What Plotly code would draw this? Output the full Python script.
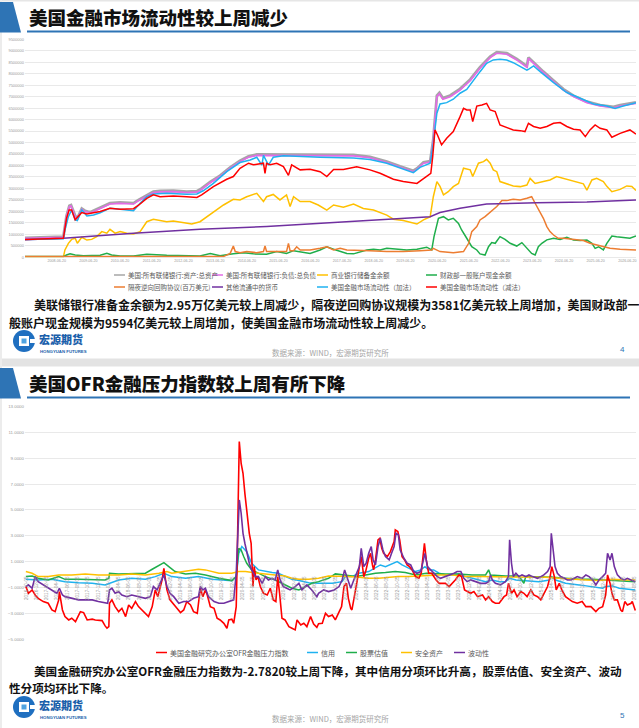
import pandas as pd
import plotly.graph_objects as go

W, H = 639, 728

# ---------------- Top chart data (decimal years ; values in million USD) ----------------
assets_t = [2007.47, 2007.9, 2008.3, 2008.68, 2008.78, 2008.87, 2008.92, 2009.05, 2009.12, 2009.26, 2009.36, 2009.47,
            2009.57, 2009.73, 2009.94, 2010.15, 2010.47, 2010.89, 2011.05, 2011.31, 2011.52, 2011.73, 2012.15, 2012.57,
            2012.89, 2013.04, 2013.31, 2013.62, 2013.94, 2014.25, 2014.52, 2014.78, 2015.09, 2015.62, 2016.15, 2016.78,
            2017.83, 2018.35, 2018.88, 2019.30, 2019.72, 2019.83, 2020.04, 2020.25, 2020.35, 2020.46, 2020.54, 2020.65,
            2020.88, 2021.19, 2021.51, 2021.82, 2022.14, 2022.35, 2022.66, 2022.98, 2023.24, 2023.30, 2023.35, 2023.51,
            2023.82, 2024.14, 2024.45, 2024.77, 2025.19, 2025.61, 2026.03, 2026.24, 2026.74]
assets_v = [0.85, 0.87, 0.88, 0.90, 1.80, 2.25, 2.28, 1.81, 1.70, 2.12, 2.03, 1.98,
            1.99, 2.09, 2.25, 2.36, 2.39, 2.36, 2.50, 2.71, 2.86, 2.89, 2.90, 2.86,
            2.88, 3.00, 3.29, 3.56, 3.92, 4.21, 4.40, 4.48, 4.48, 4.47, 4.47, 4.46,
            4.46, 4.38, 4.17, 3.96, 3.77, 3.87, 4.14, 4.19, 5.15, 7.05, 7.17, 6.94,
            7.05, 7.34, 7.75, 8.29, 8.75, 8.94, 8.90, 8.65, 8.36, 8.33, 8.71, 8.49,
            8.09, 7.70, 7.33, 7.04, 6.78, 6.63, 6.56, 6.63, 6.75]

liab_t = assets_t
liab_v = [0.83, 0.84, 0.85, 0.87, 1.77, 2.21, 2.24, 1.77, 1.66, 2.09, 1.99, 1.95,
          1.95, 2.06, 2.21, 2.32, 2.35, 2.32, 2.47, 2.67, 2.82, 2.85, 2.86, 2.82,
          2.84, 2.96, 3.25, 3.52, 3.88, 4.17, 4.36, 4.44, 4.44, 4.43, 4.43, 4.42,
          4.42, 4.34, 4.13, 3.92, 3.73, 3.83, 4.10, 4.15, 5.11, 7.00, 7.12, 6.89,
          7.00, 7.29, 7.70, 8.24, 8.70, 8.89, 8.85, 8.60, 8.31, 8.28, 8.67, 8.45,
          8.05, 7.66, 7.29, 7.00, 6.74, 6.59, 6.52, 6.59, 6.71]

res_t = [2007.47, 2008.68, 2008.73, 2008.84, 2008.94, 2009.05, 2009.12, 2009.26, 2009.42, 2009.57, 2009.73, 2009.89,
         2010.05, 2010.15, 2010.31, 2010.47, 2010.68, 2010.89, 2011.10, 2011.31, 2011.52, 2011.73, 2011.94, 2012.15,
         2012.41, 2012.73, 2012.99, 2013.20, 2013.41, 2013.73, 2014.04, 2014.25, 2014.46, 2014.78, 2014.99, 2015.09,
         2015.30, 2015.51, 2015.72, 2015.83, 2015.94, 2016.15, 2016.46, 2016.72, 2016.99, 2017.20, 2017.51, 2017.83,
         2018.14, 2018.46, 2018.88, 2019.09, 2019.40, 2019.83, 2020.04, 2020.25, 2020.35, 2020.46, 2020.56, 2020.67,
         2020.82, 2020.98, 2021.14, 2021.30, 2021.51, 2021.59, 2021.77, 2021.93, 2022.03, 2022.14, 2022.24, 2022.35,
         2022.45, 2022.66, 2022.87, 2023.09, 2023.30, 2023.40, 2023.56, 2023.82, 2024.03, 2024.24, 2024.45, 2024.77,
         2025.08, 2025.19, 2025.35, 2025.50, 2025.71, 2025.82, 2025.98, 2026.24, 2026.45, 2026.61, 2026.74]
res_v = [0.01, 0.01, 0.32, 0.61, 0.78, 0.83, 0.61, 0.87, 0.75, 0.78, 0.90, 1.12,
         1.05, 1.22, 1.05, 1.12, 1.05, 1.02, 1.12, 1.55, 1.66, 1.60, 1.55, 1.58,
         1.51, 1.45, 1.55, 1.77, 1.99, 2.28, 2.53, 2.50, 2.64, 2.79, 2.43, 2.64,
         2.74, 2.50, 2.72, 2.21, 2.64, 2.43, 2.43, 2.28, 2.06, 2.28, 2.18, 2.32,
         2.13, 2.06, 1.84, 1.66, 1.60, 1.45, 1.63, 1.77, 2.64, 3.30, 3.09, 2.72,
         2.86, 3.08, 3.22, 3.88, 3.81, 3.52, 4.10, 4.17, 4.27, 4.10, 3.81, 3.73,
         3.30, 3.20, 3.11, 3.08, 3.15, 3.44, 3.22, 3.30, 3.37, 3.52, 3.44, 3.30,
         3.20, 2.93, 3.37, 3.44, 3.30, 3.09, 2.86, 2.96, 3.11, 3.09, 2.91]

tga_t = [2007.47, 2008.68, 2008.78, 2008.89, 2009.05, 2009.31, 2009.84, 2010.05, 2010.20, 2010.47, 2010.89, 2011.31,
         2011.94, 2012.57, 2012.99, 2013.31, 2013.62, 2014.04, 2014.36, 2014.67, 2015.09, 2015.41, 2015.72, 2015.94,
         2016.15, 2016.46, 2016.78, 2016.99, 2017.20, 2017.41, 2017.62, 2017.83, 2018.04, 2018.25, 2018.46, 2018.67,
         2018.88, 2019.19, 2019.51, 2019.83, 2020.14, 2020.30, 2020.37, 2020.51, 2020.67, 2020.82, 2020.98, 2021.14,
         2021.24, 2021.40, 2021.56, 2021.72, 2021.82, 2021.98, 2022.09, 2022.19, 2022.30, 2022.45, 2022.61, 2022.77,
         2022.98, 2023.14, 2023.30, 2023.45, 2023.56, 2023.66, 2023.77, 2023.93, 2024.14, 2024.35, 2024.56, 2024.77,
         2024.98, 2025.19, 2025.35, 2025.45, 2025.56, 2025.71, 2025.82, 2025.98, 2026.13, 2026.34, 2026.55, 2026.74]
tga_v = [0.03, 0.03, 0.10, 0.15, 0.10, 0.07, 0.09, 0.17, 0.10, 0.06, 0.06, 0.13,
         0.09, 0.06, 0.06, 0.17, 0.07, 0.15, 0.20, 0.15, 0.13, 0.25, 0.17, 0.29,
         0.25, 0.17, 0.32, 0.46, 0.35, 0.25, 0.17, 0.15, 0.25, 0.32, 0.35, 0.32,
         0.39, 0.35, 0.32, 0.35, 0.44, 0.32, 0.90, 1.70, 1.77, 1.63, 1.70, 1.48,
         1.19, 0.83, 0.46, 0.32, 0.15, 0.10, 0.46, 0.64, 0.61, 0.90, 0.78, 0.61,
         0.49, 0.64, 0.39, 0.17, 0.10, 0.46, 0.61, 0.76, 0.83, 0.78, 0.87, 0.75,
         0.73, 0.75, 0.61, 0.39, 0.46, 0.32, 0.61, 0.93, 0.90, 0.87, 0.83, 0.93]

rrp_t = [2007.47, 2013.73, 2013.94, 2014.04, 2014.10, 2014.25, 2014.46, 2014.78, 2014.99, 2015.04, 2015.09, 2015.41,
         2015.72, 2015.78, 2015.83, 2015.94, 2016.04, 2016.15, 2016.46, 2016.78, 2016.99, 2017.20, 2017.41, 2017.62,
         2018.04, 2018.35, 2018.88, 2019.40, 2019.93, 2020.30, 2020.35, 2020.56, 2020.98, 2021.30, 2021.46, 2021.56,
         2021.72, 2021.82, 2021.98, 2022.14, 2022.35, 2022.51, 2022.66, 2022.87, 2023.09, 2023.30, 2023.45, 2023.59,
         2023.72, 2023.82, 2023.93, 2024.03, 2024.14, 2024.29, 2024.45, 2024.77, 2025.08, 2025.29, 2025.50, 2025.71,
         2025.92, 2026.24, 2026.74]
rrp_v = [0.03, 0.03, 0.17, 0.49, 0.25, 0.20, 0.25, 0.20, 0.25, 0.49, 0.25, 0.25,
         0.25, 0.61, 0.29, 0.29, 0.46, 0.32, 0.32, 0.39, 0.46, 0.32, 0.39, 0.32,
         0.32, 0.29, 0.25, 0.25, 0.29, 0.32, 0.39, 0.25, 0.20, 0.25, 0.61, 1.12,
         1.34, 1.63, 1.77, 1.95, 2.21, 2.47, 2.47, 2.53, 2.50, 2.57, 2.64, 2.28,
         1.99, 1.70, 1.34, 1.12, 0.97, 0.83, 0.83, 0.78, 0.73, 0.61, 0.54, 0.46,
         0.39, 0.35, 0.32]

cur_t = [2007.47, 2008.68, 2010.89, 2012.99, 2015.09, 2016.78, 2020.25, 2020.56, 2021.19, 2022.03, 2022.66, 2023.61,
         2025.19, 2026.74]
cur_v = [0.76, 0.83, 1.05, 1.22, 1.34, 1.48, 1.77, 1.95, 2.14, 2.32, 2.35, 2.38, 2.41, 2.50]

add_t = [2007.47, 2008.68, 2008.73, 2008.84, 2008.94, 2009.05, 2009.12, 2009.26, 2009.42, 2009.63, 2009.84, 2010.15,
         2010.47, 2010.89, 2011.10, 2011.31, 2011.52, 2011.94, 2012.57, 2012.89, 2013.10, 2013.41, 2013.83, 2014.25,
         2014.57, 2014.78, 2014.94, 2014.99, 2015.15, 2015.30, 2015.62, 2016.15, 2016.78, 2017.83, 2018.35, 2018.88,
         2019.30, 2019.72, 2019.93, 2020.25, 2020.35, 2020.46, 2020.56, 2020.77, 2020.98, 2021.19, 2021.40, 2021.61,
         2021.82, 2022.03, 2022.24, 2022.45, 2022.66, 2022.87, 2023.09, 2023.30, 2023.35, 2023.51, 2023.72, 2024.14,
         2024.56, 2024.98, 2025.40, 2025.82, 2026.08, 2026.34, 2026.74]
add_v = [0.78, 0.81, 1.19, 1.77, 2.06, 1.63, 1.60, 2.06, 1.80, 1.84, 1.94, 2.14,
         2.09, 2.03, 2.35, 2.64, 2.76, 2.79, 2.75, 2.76, 2.91, 3.22, 3.73, 4.13,
         4.24, 4.36, 4.02, 4.44, 4.02, 4.36, 4.42, 4.39, 4.36, 4.33, 4.26, 4.10,
         3.91, 3.69, 3.92, 4.10, 4.97, 6.28, 6.68, 6.74, 6.89, 7.15, 7.32, 7.73,
         8.09, 8.45, 8.60, 8.63, 8.60, 8.48, 8.31, 8.16, 8.19, 8.34, 8.09, 7.61,
         7.18, 6.93, 6.68, 6.59, 6.49, 6.59, 6.74]

sub_t = [2007.47, 2008.68, 2008.78, 2008.86, 2008.94, 2009.05, 2009.12, 2009.26, 2009.42, 2009.63, 2009.84, 2010.15,
         2010.47, 2010.89, 2011.05, 2011.31, 2011.52, 2011.73, 2012.15, 2012.57, 2012.89, 2013.04, 2013.41, 2013.83,
         2014.04, 2014.25, 2014.52, 2014.67, 2014.99, 2015.04, 2015.09, 2015.20, 2015.41, 2015.62, 2015.78, 2015.88,
         2016.15, 2016.46, 2016.78, 2016.99, 2017.20, 2017.51, 2017.93, 2018.35, 2018.67, 2019.09, 2019.40, 2019.83,
         2020.14, 2020.27, 2020.33, 2020.40, 2020.48, 2020.61, 2020.77, 2020.98, 2021.19, 2021.30, 2021.40, 2021.51,
         2021.59, 2021.72, 2021.88, 2022.03, 2022.14, 2022.30, 2022.45, 2022.66, 2022.87, 2023.09, 2023.24, 2023.35,
         2023.51, 2023.72, 2023.93, 2024.14, 2024.35, 2024.56, 2024.77, 2024.98, 2025.14, 2025.29, 2025.45, 2025.61,
         2025.82, 2025.98, 2026.24, 2026.55, 2026.74]
sub_v = [0.78, 0.83, 1.69, 2.06, 2.06, 1.63, 1.74, 1.95, 1.89, 1.95, 2.00, 2.14,
         2.09, 2.12, 2.27, 2.57, 2.72, 2.64, 2.67, 2.64, 2.61, 2.72, 3.08, 3.40,
         3.52, 3.88, 4.10, 4.03, 4.10, 3.66, 4.10, 4.03, 4.10, 3.95, 3.57, 4.03,
         3.81, 3.84, 3.73, 3.52, 3.83, 3.83, 3.95, 3.81, 3.66, 3.40, 3.30, 3.22,
         3.52, 3.66, 4.39, 5.55, 5.33, 4.90, 5.19, 5.48, 6.13, 6.49, 6.42, 6.42,
         5.91, 6.59, 6.64, 6.71, 6.42, 6.35, 5.77, 5.67, 5.55, 5.52, 5.48, 5.84,
         5.70, 5.62, 5.70, 5.84, 5.87, 5.70, 5.58, 5.55, 5.26, 5.55, 5.77, 5.62,
         5.55, 5.23, 5.40, 5.55, 5.37]

top_names = ["美国:所有联储银行:资产:总资产", "美国:所有联储银行:负债:总负债", "商业银行储备金余额",
             "财政部一般账户现金余额", "隔夜逆向回购协议(百万美元)", "其他流通中的货币",
             "美国金融市场流动性（加法）", "美国金融市场流动性（减法）"]

# ---------------- Bottom chart data (OFR financial stress index and components) ----------------
fsi_t = [2016.76, 2016.80, 2016.86, 2016.91, 2016.96, 2017.04, 2017.12, 2017.18, 2017.23, 2017.29, 2017.30, 2017.35,
         2017.39, 2017.45, 2017.50, 2017.56, 2017.64, 2017.69, 2017.75, 2017.83, 2017.88, 2017.93, 2017.99, 2018.04,
         2018.07, 2018.10, 2018.11, 2018.15, 2018.20, 2018.26, 2018.31, 2018.37, 2018.42, 2018.47, 2018.53, 2018.58,
         2018.64, 2018.69, 2018.74, 2018.80, 2018.85, 2018.89, 2018.96, 2018.99, 2019.04, 2019.09, 2019.15, 2019.20,
         2019.26, 2019.31, 2019.36, 2019.42, 2019.47, 2019.53, 2019.58, 2019.62, 2019.66, 2019.69, 2019.74, 2019.80,
         2019.85, 2019.90, 2019.96, 2020.01, 2020.04, 2020.09, 2020.12, 2020.16, 2020.17, 2020.19, 2020.21, 2020.24,
         2020.27, 2020.30, 2020.33, 2020.37, 2020.40, 2020.43, 2020.45, 2020.48, 2020.51, 2020.55, 2020.60, 2020.66,
         2020.71, 2020.76, 2020.80, 2020.83, 2020.86, 2020.90, 2020.95, 2021.01, 2021.06, 2021.11, 2021.14, 2021.20,
         2021.25, 2021.30, 2021.36, 2021.41, 2021.46, 2021.49, 2021.55, 2021.60, 2021.65, 2021.71, 2021.76, 2021.82,
         2021.86, 2021.90, 2021.94, 2021.97, 2022.01, 2022.03, 2022.08, 2022.11, 2022.15, 2022.18, 2022.22, 2022.25,
         2022.30, 2022.33, 2022.36, 2022.38, 2022.41, 2022.45, 2022.48, 2022.51, 2022.54, 2022.60, 2022.65, 2022.71,
         2022.73, 2022.77, 2022.80, 2022.84, 2022.88, 2022.92, 2022.96, 2023.00, 2023.06, 2023.11, 2023.15, 2023.18,
         2023.20, 2023.23, 2023.27, 2023.32, 2023.35, 2023.39, 2023.44, 2023.49, 2023.54, 2023.60, 2023.65, 2023.70,
         2023.76, 2023.80, 2023.85, 2023.89, 2023.95, 2024.00, 2024.06, 2024.14, 2024.19, 2024.24, 2024.30, 2024.35,
         2024.41, 2024.49, 2024.53, 2024.56, 2024.58, 2024.61, 2024.65, 2024.70, 2024.76, 2024.81, 2024.86, 2024.92,
         2024.97, 2025.03, 2025.08, 2025.13, 2025.19, 2025.23, 2025.26, 2025.30, 2025.33, 2025.38, 2025.42, 2025.48,
         2025.54, 2025.59, 2025.67, 2025.75, 2025.81, 2025.89, 2025.97, 2026.02, 2026.08, 2026.13, 2026.16, 2026.20,
         2026.23, 2026.27, 2026.32, 2026.375, 2026.40, 2026.44, 2026.48, 2026.54, 2026.56, 2026.61]
fsi_v = [-0.93, -1.45, -1.19, -1.58, -1.84, -2.09, -2.22, -2.74, -2.87, -1.96, -1.32, -2.74,
         -3.25, -3.51, -3.38, -3.64, -2.87, -2.94, -3.51, -3.45, -3.51, -3.51, -3.56, -3.97,
         -4.15, -4.03, -2.22, -1.96, -2.48, -2.87, -2.61, -3.25, -2.35, -2.61, -2.09, -2.48,
         -2.74, -3.00, -3.25, -2.48, -1.19, -1.71, -0.42, 0.48, -1.19, -1.96, -2.35, -2.61,
         -2.94, -2.74, -2.09, -2.35, -2.87, -3.00, -1.06, -1.71, -1.19, -1.58, -2.48, -2.61,
         -3.38, -3.51, -3.77, -4.15, -3.51, -3.45, -3.77, -2.48, 0.10, 6.80, 10.28, 8.60,
         7.83, 6.28, 4.87, 3.19, 2.42, -0.93, 0.61, -0.42, -0.16, -0.93, -1.45, -1.58,
         -1.06, -1.96, -2.09, -0.16, -1.45, -3.38, -3.51, -4.03, -4.15, -4.28, -3.51, -3.90,
         -3.77, -4.03, -3.25, -3.82, -4.08, -3.80, -3.77, -3.00, -3.25, -3.13, -3.51, -2.94,
         -2.48, -0.93, -0.68, -1.84, -2.61, -2.74, -1.45, -0.55, 0.61, 1.39, -0.16, 0.23,
         1.26, 1.64, 0.74, 0.36, 1.13, 2.68, 2.80, 2.03, 1.64, 1.39, 1.77, 2.55,
         3.45, 3.32, 2.68, 1.39, 1.13, 0.74, 0.61, 0.36, -0.16, -0.29, 0.10, 1.64,
         2.42, 1.13, 0.10, 0.10, -0.16, -0.42, -0.68, -0.68, -0.68, -0.93, -0.68, -0.42,
         -0.03, -0.16, -1.19, -1.32, -1.45, -1.32, -1.71, -1.58, -1.96, -1.71, -2.09, -2.22,
         -2.22, -1.71, -1.58, -0.68, -0.93, -1.45, -1.19, -1.71, -1.32, -1.45, -1.71, -1.19,
         -1.58, -1.71, -1.96, -1.45, -0.93, -0.16, 0.61, -0.16, -1.19, -0.68, -1.19, -1.71,
         -1.96, -2.09, -2.22, -2.09, -2.48, -2.48, -2.87, -2.61, -2.48, -1.58, -0.03, -0.68,
         -1.45, -1.96, -1.96, -2.74, -2.87, -2.09, -2.35, -2.22, -2.09, -2.78]

cred_t = [2016.76, 2016.96, 2017.18, 2017.39, 2017.61, 2017.83, 2018.04, 2018.10, 2018.26, 2018.47, 2018.69, 2018.85,
          2018.99, 2019.12, 2019.34, 2019.55, 2019.77, 2020.09, 2020.16, 2020.20, 2020.25, 2020.33, 2020.41, 2020.52,
          2020.63, 2020.74, 2020.84, 2020.95, 2021.06, 2021.17, 2021.33, 2021.49, 2021.71, 2021.87, 2021.92, 2022.03,
          2022.14, 2022.30, 2022.41, 2022.49, 2022.57, 2022.68, 2022.76, 2022.84, 2022.95, 2023.06, 2023.14, 2023.21,
          2023.27, 2023.35, 2023.44, 2023.54, 2023.65, 2023.76, 2023.87, 2023.97, 2024.08, 2024.19, 2024.30, 2024.41,
          2024.51, 2024.58, 2024.68, 2024.84, 2025.05, 2025.22, 2025.25, 2025.32, 2025.48, 2025.70, 2025.92, 2026.08,
          2026.13, 2026.24, 2026.35, 2026.48, 2026.61]
cred_v = [-0.37, -0.42, -0.37, -0.55, -0.63, -0.68, -0.80, -0.68, -0.42, -0.29, -0.37, -0.16,
          0.10, -0.16, -0.29, -0.16, -0.37, -0.47, -0.16, 1.64, 2.16, 1.77, 0.87, 0.36,
          0.23, 0.15, 0.10, -0.16, -0.37, -0.47, -0.63, -0.68, -0.68, -0.55, -0.16, -0.16,
          0.10, 0.23, 0.49, 0.74, 0.61, 0.87, 1.00, 0.74, 0.49, 0.23, 0.36, 0.61,
          0.36, 0.36, 0.10, -0.03, -0.03, 0.05, -0.16, -0.29, -0.37, -0.55, -0.42, -0.55,
          -0.55, -0.29, -0.42, -0.47, -0.55, -0.42, -0.16, -0.42, -0.68, -0.80, -0.93, -1.06,
          -0.93, -0.88, -1.06, -1.14, -1.19]

eq_t = [2016.76, 2016.86, 2016.96, 2017.12, 2017.29, 2017.39, 2017.61, 2017.83, 2018.04, 2018.10, 2018.11, 2018.26,
        2018.47, 2018.69, 2018.80, 2018.88, 2018.96, 2018.99, 2019.07, 2019.17, 2019.34, 2019.50, 2019.66, 2019.88,
        2020.09, 2020.16, 2020.20, 2020.24, 2020.28, 2020.33, 2020.41, 2020.52, 2020.63, 2020.79, 2020.95, 2021.06,
        2021.17, 2021.28, 2021.38, 2021.49, 2021.65, 2021.76, 2021.92, 2022.09, 2022.25, 2022.41, 2022.57, 2022.73,
        2022.89, 2023.06, 2023.23, 2023.38, 2023.54, 2023.76, 2023.97, 2024.19, 2024.24, 2024.27, 2024.51, 2024.73,
        2024.81, 2024.84, 2025.05, 2025.27, 2025.48, 2025.70, 2025.92, 2026.13, 2026.35, 2026.61]
eq_v = [-0.16, -0.11, -0.29, -0.42, -0.16, -0.37, -0.37, -0.42, -0.42, -0.29, 0.10, 0.05,
        0.10, 0.10, 0.41, 0.61, 0.82, 0.92, 0.61, 0.23, 0.05, 0.10, -0.03, -0.29,
        -0.47, -0.16, 2.03, 1.90, 1.39, 0.87, 0.36, 0.10, -0.16, -0.42, -0.80, -1.06,
        -1.19, -0.93, -0.68, -0.55, -0.29, 0.05, -0.03, -0.16, -0.03, 0.10, 0.15, 0.23,
        0.15, -0.03, 0.10, 0.05, 0.05, 0.05, -0.03, -0.03, 0.36, -0.03, -0.11, -0.11,
        -0.68, -0.16, -0.16, -0.21, -0.29, -0.37, -0.37, -0.42, -0.47, -0.55]

safe_t = [2016.76, 2016.86, 2016.96, 2017.12, 2017.29, 2017.50, 2017.72, 2017.93, 2018.10, 2018.26, 2018.47, 2018.69,
          2018.91, 2019.04, 2019.12, 2019.34, 2019.55, 2019.66, 2019.88, 2020.09, 2020.16, 2020.20, 2020.31, 2020.41,
          2020.52, 2020.63, 2020.79, 2020.95, 2021.06, 2021.17, 2021.33, 2021.49, 2021.65, 2021.82, 2021.97, 2022.14,
          2022.30, 2022.46, 2022.62, 2022.78, 2022.95, 2023.11, 2023.27, 2023.44, 2023.65, 2023.87, 2024.08, 2024.30,
          2024.51, 2024.73, 2024.95, 2025.16, 2025.38, 2025.59, 2025.81, 2026.02, 2026.24, 2026.46, 2026.61]
safe_v = [0.23, 0.10, -0.16, -0.16, -0.03, -0.03, 0.05, -0.03, -0.03, -0.03, 0.05, -0.03,
          0.10, 0.23, 0.10, 0.23, 0.41, 0.36, 0.10, 0.10, 0.15, 0.23, 0.23, 0.15,
          0.10, 0.05, -0.03, -0.11, -0.29, -0.37, -0.37, -0.29, -0.11, -0.11, -0.16, -0.21,
          -0.29, -0.29, -0.21, -0.16, -0.16, -0.11, -0.03, -0.03, -0.03, -0.16, -0.16, -0.16,
          -0.16, -0.21, -0.21, -0.21, -0.29, -0.37, -0.42, -0.47, -0.37, -0.42, -0.42]

vol_t = [2016.76, 2016.80, 2016.86, 2016.91, 2016.96, 2017.04, 2017.12, 2017.21, 2017.26, 2017.30, 2017.35, 2017.39,
         2017.50, 2017.61, 2017.72, 2017.83, 2017.93, 2018.04, 2018.08, 2018.11, 2018.15, 2018.20, 2018.26, 2018.31,
         2018.39, 2018.47, 2018.58, 2018.69, 2018.77, 2018.82, 2018.88, 2018.93, 2018.99, 2019.04, 2019.09, 2019.15,
         2019.23, 2019.31, 2019.39, 2019.47, 2019.55, 2019.58, 2019.62, 2019.66, 2019.71, 2019.80, 2019.88, 2019.96,
         2020.04, 2020.12, 2020.16, 2020.19, 2020.21, 2020.24, 2020.27, 2020.30, 2020.33, 2020.37, 2020.41, 2020.47,
         2020.52, 2020.58, 2020.63, 2020.68, 2020.74, 2020.79, 2020.83, 2020.87, 2020.92, 2020.98, 2021.03, 2021.11,
         2021.17, 2021.22, 2021.30, 2021.38, 2021.46, 2021.49, 2021.57, 2021.65, 2021.74, 2021.82, 2021.87, 2021.91,
         2021.95, 2022.01, 2022.06, 2022.11, 2022.15, 2022.18, 2022.22, 2022.26, 2022.30, 2022.34, 2022.37, 2022.41,
         2022.45, 2022.49, 2022.53, 2022.57, 2022.63, 2022.67, 2022.71, 2022.74, 2022.78, 2022.81, 2022.87, 2022.92,
         2022.98, 2023.03, 2023.08, 2023.14, 2023.18, 2023.21, 2023.25, 2023.30, 2023.35, 2023.41, 2023.46, 2023.54,
         2023.62, 2023.68, 2023.73, 2023.79, 2023.84, 2023.89, 2023.95, 2024.03, 2024.11, 2024.19, 2024.24, 2024.27,
         2024.30, 2024.35, 2024.43, 2024.51, 2024.56, 2024.58, 2024.61, 2024.64, 2024.68, 2024.73, 2024.78, 2024.84,
         2024.89, 2024.95, 2025.03, 2025.08, 2025.13, 2025.19, 2025.23, 2025.25, 2025.28, 2025.31, 2025.35, 2025.40,
         2025.46, 2025.51, 2025.57, 2025.62, 2025.67, 2025.75, 2025.81, 2025.86, 2025.92, 2025.97, 2026.02, 2026.08,
         2026.13, 2026.16, 2026.20, 2026.23, 2026.27, 2026.32, 2026.375, 2026.43, 2026.48, 2026.54, 2026.61]
vol_v = [-0.93, -0.80, -1.06, -0.16, -0.55, -0.80, -1.06, -1.32, -1.45, -1.06, -1.58, -1.71,
         -1.84, -1.96, -1.96, -1.96, -2.09, -2.17, -2.22, -1.19, -1.06, -1.45, -1.32, -1.58,
         -1.71, -1.58, -1.71, -1.84, -1.71, -0.93, -1.19, -0.68, -0.03, -0.93, -1.45, -1.71,
         -2.22, -2.09, -2.09, -1.84, -1.71, -0.93, -1.19, -1.06, -1.71, -2.09, -2.22, -2.22,
         -2.09, -1.96, 0.10, 4.22, 5.77, 4.74, 3.19, 2.42, 1.64, 0.87, 0.36, -0.16,
         -0.16, -0.68, -0.16, -0.42, -0.29, -0.42, 0.36, -0.42, -0.93, -1.06, -1.19, -0.93,
         -0.68, -1.19, -0.80, -1.19, -1.71, -1.45, -1.19, -1.32, -1.19, -0.93, -0.42, 0.36,
         -0.16, -1.06, -0.42, 0.10, 0.61, 2.03, 0.61, 0.87, 1.64, 2.16, 1.13, 0.74,
         2.16, 2.80, 1.90, 1.39, 1.13, 1.64, 2.16, 3.19, 3.06, 1.90, 1.26, 0.87,
         0.74, 0.23, 0.10, 0.23, 1.13, 1.64, 0.61, 0.36, 0.10, -0.16, -0.29, -0.16,
         -0.03, 0.10, 0.23, 0.23, -0.29, -0.55, -0.42, -0.55, -0.68, -0.68, -0.55, -0.03,
         -0.42, -0.68, -0.80, -0.55, -0.16, 2.68, 0.87, -0.16, 0.10, -0.16, -0.03, -0.16,
         -0.03, -0.16, -0.29, -0.16, -0.03, 0.23, 0.61, 3.19, 1.64, 0.61, 0.10, -0.16,
         -0.29, -0.42, -0.42, -0.29, -0.16, -0.29, -0.03, -0.16, -0.42, -0.80, -0.42, -0.16,
         0.10, 1.64, 1.13, 1.64, 0.61, -0.03, -0.29, -0.42, -0.29, -0.42, -0.55]

bottom_names = ["美国金融研究办公室OFR金融压力指数", "信用", "股票估值", "安全资产", "波动性"]

# ---------------- text ----------------
title1 = "美国金融市场流动性较上周减少"
title2 = "美国OFR金融压力指数较上周有所下降"
para1 = ["美联储银行准备金余额为2.95万亿美元较上周减少，隔夜逆回购协议规模为3581亿美元较上周增加，美国财政部一",
         "般账户现金规模为9594亿美元较上周增加，使美国金融市场流动性较上周减少。"]
para2 = ["美国金融研究办公室OFR金融压力指数为-2.7820较上周下降，其中信用分项环比升高，股票估值、安全资产、波动",
         "性分项均环比下降。"]
source_text = "数据来源：WIND，宏源期货研究所"


def to_date(t):
    y = int(t)
    return (pd.Timestamp(year=y, month=1, day=1) + pd.Timedelta(days=(t - y) * 365.25)).strftime("%Y-%m-%d")


def dates(ts):
    return [to_date(t) for t in ts]


def X(p):
    return p / W


def Y(p):
    return 1 - p / H


CJK = "Noto Sans CJK SC"
fig = go.Figure()

top_series = [(assets_t, assets_v, "#a6a6a6", 2.8), (liab_t, liab_v, "#e36be6", 1.6),
              (res_t, res_v, "#ffc000", 1.5), (tga_t, tga_v, "#1fae4b", 1.5),
              (rrp_t, rrp_v, "#ed7d31", 1.5), (cur_t, cur_v, "#7030a0", 1.5),
              (add_t, add_v, "#1fb2f0", 1.5), (sub_t, sub_v, "#ff0000", 1.5)]
for name, (ts, vs, col, wd) in zip(top_names, top_series):
    fig.add_trace(go.Scatter(x=dates(ts), y=[v * 1e6 for v in vs], mode="lines", name=name,
                             line=dict(color=col, width=wd), xaxis="x", yaxis="y", showlegend=False))

bottom_series = [(fsi_t, fsi_v, "#ff0000", 1.6), (cred_t, cred_v, "#1fb2f0", 1.5),
                 (eq_t, eq_v, "#1fae4b", 1.5), (safe_t, safe_v, "#ffc000", 1.5),
                 (vol_t, vol_v, "#7030a0", 1.6)]
draw_order = [1, 2, 3, 0, 4]
for i in draw_order:
    ts, vs, col, wd = bottom_series[i]
    fig.add_trace(go.Scatter(x=dates(ts), y=vs, mode="lines", name=bottom_names[i],
                             line=dict(color=col, width=wd), xaxis="x2", yaxis="y2", showlegend=False))

tickfont = dict(family="Liberation Sans", size=4, color="#9a9a9a")
grid = "#e9e9e9"
fig.update_layout(
    width=W, height=H, margin=dict(l=0, r=0, t=0, b=0, autoexpand=False),
    paper_bgcolor="white", plot_bgcolor="white", showlegend=False,
    xaxis=dict(domain=[X(25), X(636)], anchor="y", type="date", automargin=False,
               range=[to_date(2007.47), to_date(2026.74)],
               tick0="2007-06-20", dtick="M12", tickformat="%Y-%m-%d",
               tickfont=dict(family="Liberation Sans", size=3.6, color="#9a9a9a"),
               showgrid=False, zeroline=False, showline=False, ticks=""),
    yaxis=dict(domain=[Y(257.3), Y(39.3)], anchor="x", range=[0, 9.5e6], dtick=500000, automargin=False,
               tickformat="d", tickfont=tickfont, gridcolor=grid, gridwidth=1,
               zeroline=True, zerolinecolor=grid, zerolinewidth=1, showline=False, ticks=""),
    xaxis2=dict(domain=[X(25), X(636)], anchor="free", position=Y(574.6), type="date", automargin=False,
                range=[to_date(2016.745), to_date(2026.62)],
                tick0="2016-10-05", dtick="M2", tickformat="%Y-%m-%d", tickangle=-90,
                tickfont=dict(family="Liberation Sans", size=4.6, color="#9a9a9a"),
                showgrid=False, zeroline=False, showline=False, ticks=""),
    yaxis2=dict(domain=[Y(639.2), Y(406.4)], anchor="x2", range=[-5, 13], tick0=1, dtick=2, automargin=False,
                tickformat=".4f", tickfont=dict(family="Liberation Sans", size=4.4, color="#9a9a9a"),
                gridcolor=grid, gridwidth=1, zeroline=False, showline=False, ticks=""),
)

shapes = []
annotations = []
BLUE = "#2e74b5"

# page frame details
shapes.append(dict(type="rect", xref="paper", yref="paper", x0=0, x1=1, y0=Y(1.5), y1=1,
                   fillcolor="#e6e6e6", line=dict(width=0), layer="below"))
shapes.append(dict(type="rect", xref="paper", yref="paper", x0=0, x1=1, y0=Y(366.5), y1=Y(358.5),
                   fillcolor="#e3e3e3", line=dict(width=0), layer="below"))
shapes.append(dict(type="rect", xref="paper", yref="paper", x0=0, x1=X(2), y0=0, y1=1,
                   fillcolor="#ececec", line=dict(width=0), layer="below"))

para_sizes = [12, 11.6]
for idx, (off, title, para, page) in enumerate([(0, title1, para1, "4"), (366, title2, para2, "5")]):
    # blue tab + underline
    path = "M{},{} L{},{} L{},{} L{},{} Z".format(X(0), Y(off + 2), X(13), Y(off + 2),
                                                    X(21), Y(off + 32.5), X(0), Y(off + 32.5))
    shapes.append(dict(type="path", xref="paper", yref="paper", path=path, fillcolor=BLUE, line=dict(width=0)))
    shapes.append(dict(type="rect", xref="paper", yref="paper", x0=X(27), x1=X(630),
                       y0=Y(off + 32.5), y1=Y(off + 30.5), fillcolor=BLUE, line=dict(width=0)))
    annotations.append(dict(xref="paper", yref="paper", x=X(27), y=Y(off + 17), xanchor="left", yanchor="middle",
                            text=title, showarrow=False,
                            font=dict(family=CJK, size=18.5, color="#111111", weight=900)))
    # paragraph
    annotations.append(dict(xref="paper", yref="paper", x=X(32), y=Y(off + 304.5), xanchor="left", yanchor="middle",
                            text=para[0], showarrow=False,
                            font=dict(family=CJK, size=para_sizes[idx], color="#111111", weight=700)))
    annotations.append(dict(xref="paper", yref="paper", x=X(7), y=Y(off + 322), xanchor="left", yanchor="middle",
                            text=para[1], showarrow=False,
                            font=dict(family=CJK, size=para_sizes[idx], color="#111111", weight=700)))
    # logo
    shapes.append(dict(type="circle", xref="paper", yref="paper", x0=X(13), x1=X(35), y0=Y(off + 352), y1=Y(off + 330),
                       fillcolor="#1f6fc0", line=dict(width=0)))
    shapes.append(dict(type="rect", xref="paper", yref="paper", x0=X(19), x1=X(29), y0=Y(off + 346), y1=Y(off + 336),
                       fillcolor="white", line=dict(width=0)))
    shapes.append(dict(type="rect", xref="paper", yref="paper", x0=X(21.5), x1=X(26.5), y0=Y(off + 343.5), y1=Y(off + 338.5),
                       fillcolor="#4fa3e0", line=dict(width=0)))
    shapes.append(dict(type="rect", xref="paper", yref="paper", x0=X(30), x1=X(36), y0=Y(off + 343), y1=Y(off + 339),
                       fillcolor="white", line=dict(width=0)))
    annotations.append(dict(xref="paper", yref="paper", x=X(37), y=Y(off + 338.5), xanchor="left", yanchor="middle",
                            text="宏源期货", showarrow=False, font=dict(family=CJK, size=11, color="#1b5fab", weight=900)))
    annotations.append(dict(xref="paper", yref="paper", x=X(38), y=Y(off + 351), xanchor="left", yanchor="middle",
                            text="HONGYUAN FUTURES", showarrow=False,
                            font=dict(family="Liberation Sans", size=4.3, color="#1b5fab", weight=700)))
    # source + page number
    annotations.append(dict(xref="paper", yref="paper", x=X(330), y=Y(off + 352.5), xanchor="center", yanchor="middle",
                            text=source_text, showarrow=False, font=dict(family=CJK, size=7.5, color="#a6a6a6")))
    annotations.append(dict(xref="paper", yref="paper", x=X(622), y=Y(off + 349), xanchor="center", yanchor="middle",
                            text=page, showarrow=False, font=dict(family="Liberation Sans", size=8, color=BLUE)))

# legends (drawn as line samples + labels)
leg1_cols = [114, 212, 317, 426]
leg1_rows = [275, 287]
for k, name in enumerate(top_names):
    col = top_series[k][2]
    lx = leg1_cols[k % 4]
    ly = leg1_rows[k // 4]
    shapes.append(dict(type="line", xref="paper", yref="paper", x0=X(lx), x1=X(lx + 11), y0=Y(ly), y1=Y(ly),
                       line=dict(color=col, width=1.5)))
    annotations.append(dict(xref="paper", yref="paper", x=X(lx + 12), y=Y(ly), xanchor="left", yanchor="middle",
                            text=name, showarrow=False, font=dict(family=CJK, size=6.5, color="#595959")))

leg2_x = [156, 307, 346, 401, 454]
for k, name in enumerate(bottom_names):
    col = bottom_series[k][2]
    lx = leg2_x[k]
    ly = 652.5
    shapes.append(dict(type="line", xref="paper", yref="paper", x0=X(lx), x1=X(lx + 11), y0=Y(ly), y1=Y(ly),
                       line=dict(color=col, width=1.5)))
    annotations.append(dict(xref="paper", yref="paper", x=X(lx + 12), y=Y(ly), xanchor="left", yanchor="middle",
                            text=name, showarrow=False, font=dict(family=CJK, size=7, color="#595959")))

fig.update_layout(shapes=shapes, annotations=annotations)
fig.write_html("out.html", config={"displayModeBar": False},
               post_script="document.body.style.margin='0';document.body.style.padding='0';"
                           "document.documentElement.style.overflow='hidden';")
